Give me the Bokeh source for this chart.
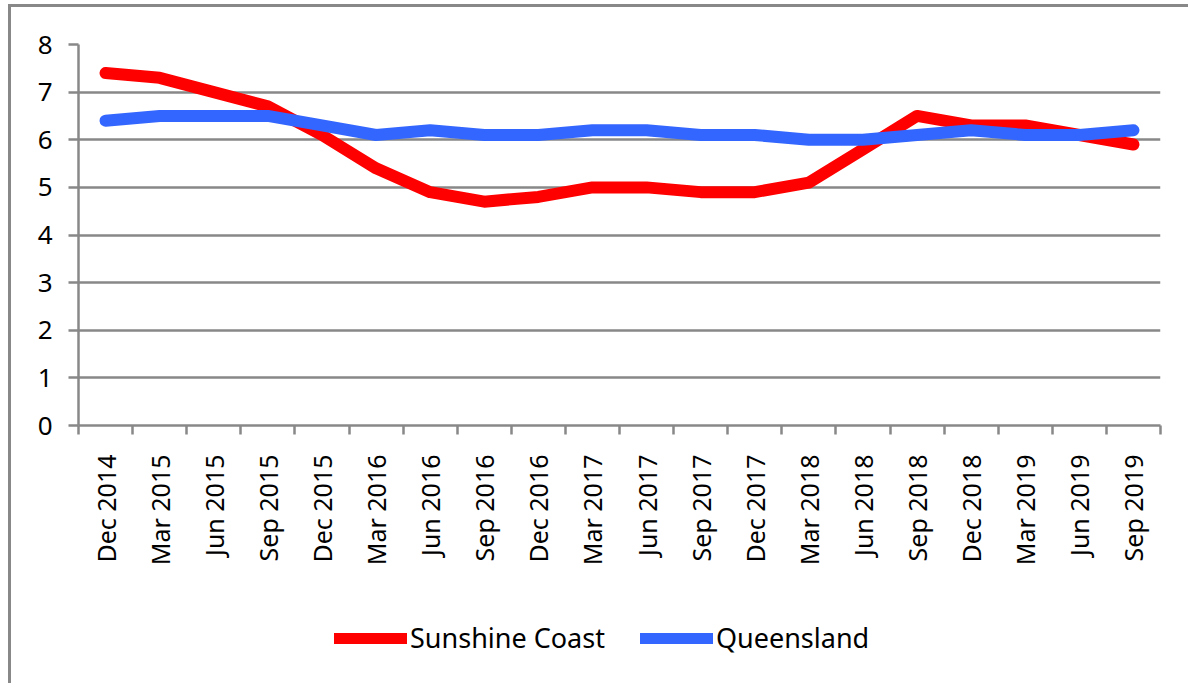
import math
from bokeh.plotting import figure
from bokeh.layouts import column
from bokeh.models import Range1d, FixedTicker, Legend, LegendItem
from bokeh.embed import file_html
from bokeh.resources import INLINE

quarters = ["Dec 2014", "Mar 2015", "Jun 2015", "Sep 2015", "Dec 2015", "Mar 2016",
            "Jun 2016", "Sep 2016", "Dec 2016", "Mar 2017", "Jun 2017", "Sep 2017",
            "Dec 2017", "Mar 2018", "Jun 2018", "Sep 2018", "Dec 2018", "Mar 2019",
            "Jun 2019", "Sep 2019"]
sunshine_coast = [7.4, 7.3, 7.0, 6.7, 6.1, 5.4, 4.9, 4.7, 4.8, 5.0,
                  5.0, 4.9, 4.9, 5.1, 5.8, 6.5, 6.3, 6.3, 6.1, 5.9]
queensland = [6.4, 6.5, 6.5, 6.5, 6.3, 6.1, 6.2, 6.1, 6.1, 6.2,
              6.2, 6.1, 6.1, 6.0, 6.0, 6.1, 6.2, 6.1, 6.1, 6.2]
y_ticks = [0, 1, 2, 3, 4, 5, 6, 7, 8]
series_names = ["Sunshine Coast", "Queensland"]

FONT = "Noto Sans"
GRAY = "#888888"
RED = "#FF0000"
BLUE = "#3366FF"

xs = list(range(len(quarters)))

p = figure(width=1177, height=600, output_backend="svg", toolbar_location=None,
           x_range=Range1d(-0.5, len(quarters) - 0.5), y_range=Range1d(0, 8),
           min_border_left=67, min_border_right=28, min_border_top=37, min_border_bottom=182,
           outline_line_color=None)

p.line(xs, sunshine_coast, line_color=RED, line_width=12, line_cap="round", line_join="round")
p.line(xs, queensland, line_color=BLUE, line_width=12, line_cap="round", line_join="round")

# y axis
p.yaxis.ticker = FixedTicker(ticks=y_ticks)
p.yaxis.axis_line_color = GRAY
p.yaxis.axis_line_width = 2.5
p.yaxis.major_tick_line_color = GRAY
p.yaxis.major_tick_line_width = 2.5
p.yaxis.major_tick_out = 10
p.yaxis.major_tick_in = 0
p.yaxis.minor_tick_line_color = None
p.yaxis.major_label_text_font = FONT
p.yaxis.major_label_text_font_size = "26px"
p.yaxis.major_label_text_color = "black"
p.yaxis.major_label_standoff = 16

# x axis: labels at category centres, ticks at boundaries
p.xaxis.ticker = FixedTicker(ticks=xs, minor_ticks=[i - 0.5 for i in range(len(quarters) + 1)])
p.xaxis.major_label_overrides = {i: q for i, q in enumerate(quarters)}
p.xaxis.major_label_orientation = math.pi / 2
p.xaxis.major_label_text_font = FONT
p.xaxis.major_label_text_font_size = "25px"
p.xaxis.major_label_text_color = "black"
p.xaxis.major_label_standoff = 20
p.xaxis.major_tick_line_color = None
p.xaxis.minor_tick_line_color = GRAY
p.xaxis.minor_tick_line_width = 2.5
p.xaxis.minor_tick_out = 9
p.xaxis.minor_tick_in = 0
p.xaxis.axis_line_color = GRAY
p.xaxis.axis_line_width = 2.5

p.xgrid.grid_line_color = None
p.ygrid.grid_line_color = GRAY
p.ygrid.grid_line_width = 2.5
p.ygrid.ticker = FixedTicker(ticks=y_ticks)

# legend strip below the chart (its sample lines lie outside its own ranges)
pl = figure(width=1177, height=76, output_backend="svg", toolbar_location=None,
            x_range=Range1d(100, 101), y_range=Range1d(100, 101),
            min_border=0, outline_line_color=None)
pl.axis.visible = False
pl.grid.visible = False
l_sc = pl.line(xs, sunshine_coast, line_color=RED, line_width=11, line_cap="round")
l_ql = pl.line(xs, queensland, line_color=BLUE, line_width=11, line_cap="round")
legend = Legend(items=[LegendItem(label=series_names[0], renderers=[l_sc]),
                       LegendItem(label=series_names[1], renderers=[l_ql])],
                orientation="horizontal", location=(256, 27),
                label_text_font=FONT, label_text_font_size="27px", label_text_color="black",
                glyph_width=73, glyph_height=34, label_standoff=3, spacing=35,
                border_line_color=None, background_fill_alpha=0,
                padding=0, margin=0)
pl.add_layout(legend, "center")

layout = column(p, pl, spacing=0,
                styles={"border-left": "3px solid #888888", "border-top": "3px solid #888888",
                        "margin-left": "8px", "margin-top": "4px"})

open("out.html", "w").write(file_html(layout, INLINE))
